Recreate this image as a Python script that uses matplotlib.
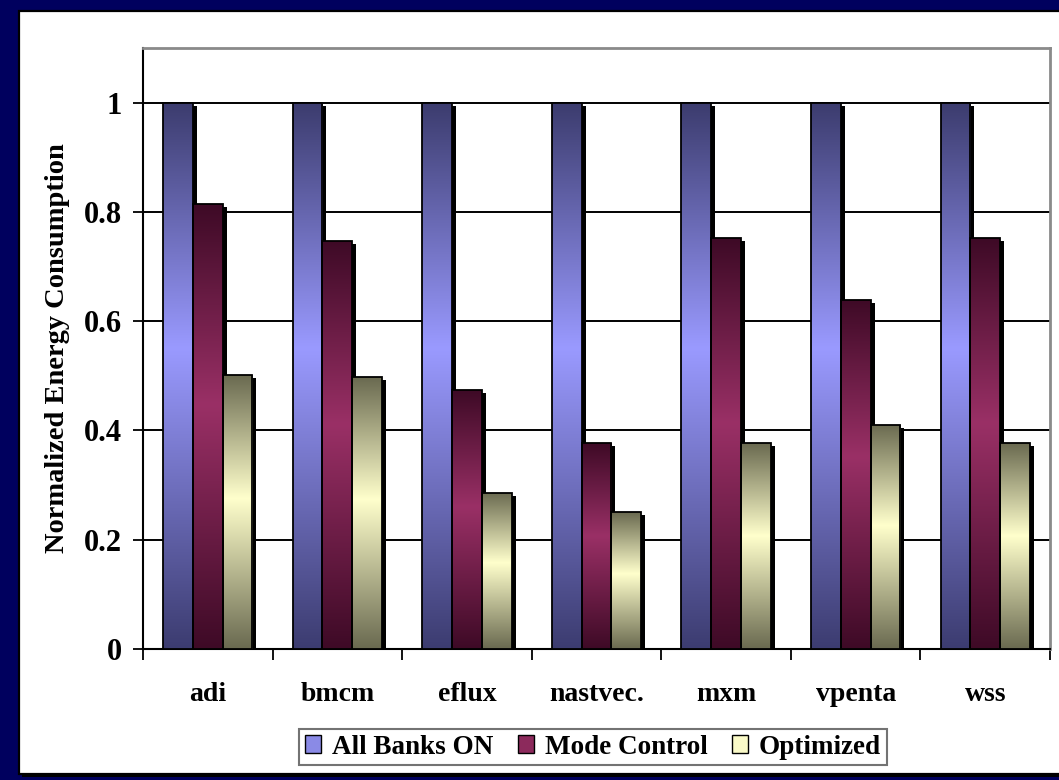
import numpy as np
import matplotlib
matplotlib.use('Agg')
import matplotlib.pyplot as plt
from matplotlib.patches import Rectangle, Patch
from matplotlib.colors import LinearSegmentedColormap

categories = ['adi', 'bmcm', 'eflux', 'nastvec.', 'mxm', 'vpenta', 'wss']
series_names = ['All Banks ON', 'Mode Control', 'Optimized']
all_banks_on = [1.0, 1.0, 1.0, 1.0, 1.0, 1.0, 1.0]
mode_control = [0.814, 0.747, 0.474, 0.377, 0.752, 0.639, 0.752]
optimized = [0.501, 0.497, 0.286, 0.250, 0.377, 0.410, 0.377]
y_ticks = [0, 0.2, 0.4, 0.6, 0.8, 1.0]
y_tick_labels = ['0', '0.2', '0.4', '0.6', '0.8', '1']
y_label = 'Normalized Energy Consumption'

# gradient stops per series: (top, light, bottom)
grad_colors = [('#3c3c6e', '#9a9aff', '#3c3c70'),
               ('#3e0a26', '#9a3066', '#3e0a26'),
               ('#6a6a50', '#ffffcc', '#6a6a50')]
swatch_colors = ['#8a8ae6', '#8c2a5c', '#fafac8']

W, H = 1059, 780
fig = plt.figure(figsize=(W / 100, H / 100), dpi=100, facecolor='#00005e')

FONT = 'Liberation Serif'


def rect_px(x0, y0, x1, y1, **kw):
    r = Rectangle((x0 / W, 1 - y1 / H), (x1 - x0) / W, (y1 - y0) / H,
                  transform=fig.transFigure, **kw)
    fig.patches.append(r)
    return r

# outer white panel with shadow
rect_px(22, 14, 1070, 777, facecolor='black', edgecolor='none', zorder=-3)
rect_px(19, 11, 1067, 774, facecolor='white', edgecolor='black', lw=1.6, zorder=-2)

ax = fig.add_axes([143 / W, 1 - 649 / H, (1050 - 143) / W, (649 - 48) / H])
ax.set_facecolor('white')

x = np.arange(len(categories))
width = 0.23
offsets = [-width, 0.0, width]
series = [all_banks_on, mode_control, optimized]

dx = 4.0 / 129.6
dy = 3.0 / 548.0

for i, (vals, off) in enumerate(zip(series, offsets)):
    top, light, bottom = grad_colors[i]
    cmap = LinearSegmentedColormap.from_list(
        'g%d' % i, [(0.0, top), (0.45, light), (1.0, bottom)])
    grad = np.linspace(0, 1, 256).reshape(-1, 1)
    # shadow
    ax.bar(x + off + dx, np.array(vals) - dy, width, color='black',
           edgecolor='none', zorder=2)
    bars = ax.bar(x + off, vals, width, facecolor='none', edgecolor='black',
                  lw=1.3, zorder=4)
    for b in bars:
        bx, bw, bh = b.get_x(), b.get_width(), b.get_height()
        im = ax.imshow(grad, cmap=cmap, aspect='auto', origin='upper',
                       extent=(bx, bx + bw, 0, bh), zorder=3,
                       interpolation='bilinear')
        im.set_clip_path(b)

ax.set_xlim(-0.5, len(categories) - 0.5)
ax.set_ylim(0, 1.1)

ax.set_axisbelow(True)
ax.yaxis.grid(True, color='black', lw=1.4)
ax.set_yticks(y_ticks)
ax.set_yticklabels(y_tick_labels, fontfamily=FONT, fontweight='bold', fontsize=22)
ax.tick_params(axis='y', direction='out', length=7, width=1.3, pad=8)

ax.set_xticks(np.arange(-0.5, len(categories), 1.0))
ax.set_xticklabels([])
ax.tick_params(axis='x', which='major', direction='out', length=8, width=1.3)
ax.set_xticks(x, minor=True)
ax.set_xticklabels(categories, minor=True, fontfamily=FONT, fontweight='bold',
                   fontsize=20)
ax.tick_params(axis='x', which='minor', length=0, pad=24)

for s in ['top', 'right']:
    ax.spines[s].set_color('#8a8a8a')
    ax.spines[s].set_linewidth(2)
ax.spines['left'].set_color('black')
ax.spines['left'].set_linewidth(1.5)
ax.spines['bottom'].set_color('black')
ax.spines['bottom'].set_linewidth(1.5)

ax.set_ylabel(y_label, fontfamily=FONT, fontweight='bold', fontsize=20.5, labelpad=10)

handles = [Patch(facecolor=c, edgecolor='black', lw=1.0) for c in swatch_colors]
leg = fig.legend(handles, series_names, loc='center', ncol=3,
                 bbox_to_anchor=(593 / W, 1 - 747 / H),
                 prop={'family': FONT, 'weight': 'bold', 'size': 19.5},
                 handlelength=0.6, handleheight=0.6, handletextpad=0.4,
                 columnspacing=0.9, borderpad=0.2, fancybox=False,
                 frameon=True, borderaxespad=0)
leg.get_frame().set_edgecolor('#505050')
leg.get_frame().set_linewidth(1.5)

fig.savefig('out.png', dpi=100, facecolor=fig.get_facecolor())
